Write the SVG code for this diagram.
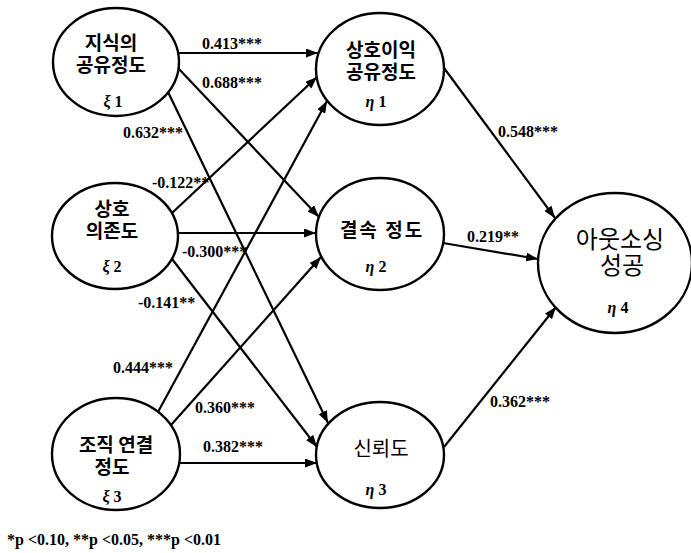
<svg xmlns="http://www.w3.org/2000/svg" width="691" height="553" viewBox="0 0 691 553">
<defs>
<style>
.node ellipse{fill:#fff;stroke:#000;stroke-width:2.4}
.kr{font-family:"Noto Sans CJK KR","Noto Sans",sans-serif;font-size:19px;font-weight:bold;text-anchor:middle;fill:#000}
.gr{font-family:"Liberation Serif",serif;font-size:16px;font-weight:bold;text-anchor:middle;fill:#000}
.gr .s{font-style:italic}
.lab{font-family:"Liberation Serif",serif;font-size:16px;font-weight:bold;fill:#000}
.conn line{stroke:#000;stroke-width:2.2;marker-end:url(#ah)}
</style>
<marker id="ah" markerUnits="userSpaceOnUse" markerWidth="12" markerHeight="9" refX="12" refY="4.5" orient="auto">
<path d="M0,0 L12,4.5 L0,9 z" fill="#000"/>
</marker>
</defs>
<rect width="691" height="553" fill="#fff"/>
<g id="connectors" class="conn">
<line x1="179" y1="53" x2="318" y2="53"/>
<line x1="178" y1="68" x2="319" y2="217"/>
<line x1="168" y1="92" x2="328" y2="423"/>
<line x1="172" y1="213" x2="317" y2="77"/>
<line x1="178" y1="233" x2="316" y2="233"/>
<line x1="172" y1="259" x2="317" y2="447"/>
<line x1="158" y1="412" x2="327" y2="101"/>
<line x1="171" y1="425" x2="321" y2="257"/>
<line x1="179" y1="463" x2="317" y2="463"/>
<line x1="444" y1="68" x2="555" y2="218"/>
<line x1="443" y1="243" x2="538" y2="259"/>
<line x1="444" y1="447" x2="556" y2="307"/>
</g>
<g id="xi1" class="node">
<ellipse cx="116" cy="62" rx="63" ry="54"/>
<text class="kr" x="111" y="50">지식의</text>
<text class="kr" x="111" y="72">공유정도</text>
<text class="gr" x="113" y="107"><tspan class="s">ξ</tspan> 1</text>
</g>
<g id="xi2" class="node">
<ellipse cx="115" cy="236" rx="63" ry="53"/>
<text class="kr" x="112" y="216">상호</text>
<text class="kr" x="112" y="238">의존도</text>
<text class="gr" x="112" y="272"><tspan class="s">ξ</tspan> 2</text>
</g>
<g id="xi3" class="node">
<ellipse cx="116" cy="454" rx="64" ry="56"/>
<text class="kr" x="116" y="452">조직 연결</text>
<text class="kr" x="112" y="474">정도</text>
<text class="gr" x="112" y="502"><tspan class="s">ξ</tspan> 3</text>
</g>
<g id="eta1" class="node">
<ellipse cx="380" cy="69" rx="64" ry="56"/>
<text class="kr" x="381" y="57">상호이익</text>
<text class="kr" x="381" y="79">공유정도</text>
<text class="gr" x="376" y="107"><tspan class="s">η</tspan> 1</text>
</g>
<g id="eta2" class="node">
<ellipse cx="380" cy="234" rx="64" ry="56"/>
<text class="kr" x="382" y="237" letter-spacing="2">결속 정도</text>
<text class="gr" x="376" y="272"><tspan class="s">η</tspan> 2</text>
</g>
<g id="eta3" class="node">
<ellipse cx="380" cy="455" rx="64" ry="53"/>
<text class="kr" x="381" y="456" style="font-size:20px;font-weight:normal">신뢰도</text>
<text class="gr" x="376" y="495"><tspan class="s">η</tspan> 3</text>
</g>
<g id="eta4" class="node">
<ellipse cx="615" cy="263" rx="77" ry="70"/>
<text class="kr" x="620" y="248" style="font-size:24px;font-weight:normal">아웃소싱</text>
<text class="kr" x="622" y="274" style="font-size:24px;font-weight:normal">성공</text>
<text class="gr" x="618" y="313"><tspan class="s">η</tspan> 4</text>
</g>
<g id="labels">
<text class="lab" x="202" y="49">0.413***</text>
<text class="lab" x="202" y="88">0.688***</text>
<text class="lab" x="123" y="138">0.632***</text>
<text class="lab" x="152" y="188">-0.122**</text>
<text class="lab" x="182" y="257">-0.300***</text>
<text class="lab" x="138" y="308">-0.141**</text>
<text class="lab" x="113" y="373">0.444***</text>
<text class="lab" x="195" y="413">0.360***</text>
<text class="lab" x="203" y="452">0.382***</text>
<text class="lab" x="498" y="137">0.548***</text>
<text class="lab" x="467" y="242">0.219**</text>
<text class="lab" x="490" y="407">0.362***</text>
<text class="lab" x="7" y="545">*p &lt;0.10, **p &lt;0.05, ***p &lt;0.01</text>
</g>
</svg>
